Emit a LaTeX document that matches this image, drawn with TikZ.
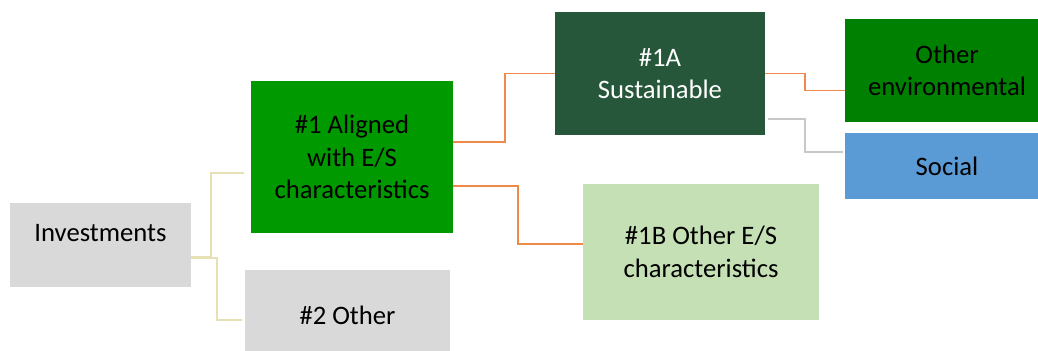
\documentclass[tikz,border=0pt]{standalone}
\usepackage{fontspec}
\setmainfont{Carlito}
\usepackage{xcolor}

\definecolor{boxgray}{HTML}{D9D9D9}
\definecolor{alignedgreen}{HTML}{009900}
\definecolor{sustgreen}{HTML}{26573A}
\definecolor{envgreen}{HTML}{008000}
\definecolor{socialblue}{HTML}{5B9BD5}
\definecolor{paleolive}{HTML}{C5E0B4}
\definecolor{lineorange}{HTML}{F08A4B}
\definecolor{linepale}{HTML}{E6E1B5}
\definecolor{linegray}{HTML}{C8C8C8}

\begin{document}
\begin{tikzpicture}[x=0.75pt,y=-0.75pt,
	box/.style={inner sep=0pt,align=center,font=\fontsize{20}{24.5}\selectfont},
	link/.style={line width=1.2pt}]
	\useasboundingbox (0,0) rectangle (1038,350);
	\clip (0,0) rectangle (1038,350);
	\node[box,fill=boxgray,minimum width=181*0.75pt,minimum height=84*0.75pt,text depth=18pt] (inv) at (100.5,245) {Investments};
	\node[box,fill=boxgray,minimum width=205*0.75pt,minimum height=90*0.75pt] (other2) at (347.5,315) {\#2 Other};
	\node[box,fill=alignedgreen,minimum width=202*0.75pt,minimum height=152*0.75pt] (aligned) at (352,157) {\#1 Aligned\\with E/S\\characteristics};
	\node[box,fill=sustgreen,text=white,minimum width=210*0.75pt,minimum height=123*0.75pt] (sust) at (660,73.5) {\#1A\\Sustainable};
	\node[box,fill=paleolive,minimum width=236*0.75pt,minimum height=136*0.75pt] (otheres) at (701,252) {\#1B Other E/S\\characteristics};
	\node[box,fill=envgreen,minimum width=204*0.75pt,minimum height=103*0.75pt] (env) at (947,70.5) {Other\\environmental};
	\node[box,fill=socialblue,minimum width=204*0.75pt,minimum height=66*0.75pt] (social) at (947,166) {Social};

	\draw[link,linepale] ([shift={(0,12)}]inv.east) -- ++(20,0) |- ([shift={(-7,16)}]aligned.west);
	\draw[link,linepale] ([shift={(0,13)}]inv.east) -- ++(26,0) |- ([shift={(-3,5)}]other2.west);
	\draw[link,lineorange] ([shift={(0,-15)}]aligned.east) -- ++(52,0) |- (sust.west);
	\draw[link,lineorange] ([shift={(0,29)}]aligned.east) -- ++(65,0) |- ([shift={(0,-8)}]otheres.west);
	\draw[link,lineorange] (sust.east) -- ++(40,0) |- ([shift={(0,20)}]env.west);
	\draw[link,linegray] ([shift={(3,45.5)}]sust.east) -- ++(37,0) |- ([shift={(-2,-14)}]social.west);
\end{tikzpicture}
\end{document}
